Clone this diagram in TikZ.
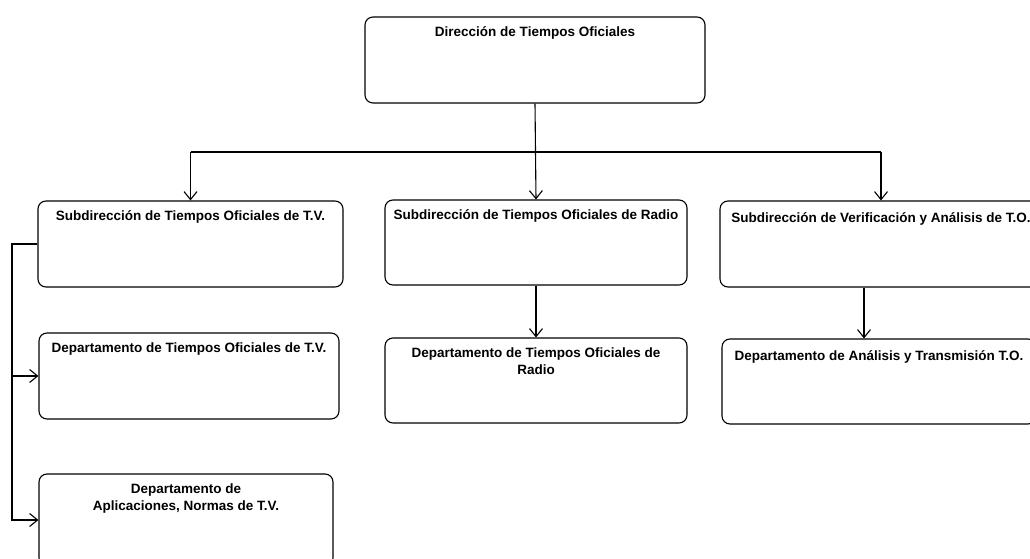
\documentclass[tikz,border=0pt]{standalone}
\usepackage{fontspec}
\setmainfont{Liberation Sans}
\usetikzlibrary{arrows.meta,positioning}

\tikzset{
  unit/.style={draw,rounded corners=8pt,line width=1.1pt},
  unittext/.style={anchor=north,yshift=-10pt,inner sep=0pt,align=center,
    font=\fontsize{13.5}{17}\selectfont\bfseries},
  arr/.style={-{Straight Barb[length=8pt,width=13pt]}},
}

\begin{document}
\begin{tikzpicture}[x=1pt,y=-1pt,line width=1.1pt]
    \clip (0,0) rectangle (1030,559);

    \node[unit,minimum width=340pt,minimum height=86pt,
      label={[unittext]north:Dirección de Tiempos Oficiales}] (dto) at (535,60) {};

    \node[unit,minimum width=305pt,minimum height=86pt,
      label={[unittext]north:Subdirección de Tiempos Oficiales de T.V.}] (stv) at (190.5,244) {};
    \node[unit,minimum width=302pt,minimum height=85pt,
      label={[unittext]north:Subdirección de Tiempos Oficiales de Radio}] (srad) at (536,242.5) {};
    \node[unit,minimum width=322pt,minimum height=86pt,
      label={[unittext,yshift=-2pt]north:Subdirección de Verificación y Análisis de T.O.}] (sver) at (881,244) {};

    \node[unit,minimum width=300pt,minimum height=86pt,
      label={[unittext]north:Departamento de Tiempos Oficiales de T.V.}] (dtv) at (189,376) {};
    \node[unit,minimum width=294pt,minimum height=92pt,
      label={[unittext]north:Departamento de\\Aplicaciones, Normas de T.V.}] (dapl) at (186,520) {};
    \node[unit,minimum width=302pt,minimum height=85pt,
      label={[unittext]north:Departamento de Tiempos Oficiales de\\Radio}] (drad) at (536,380.5) {};
    \node[unit,minimum width=314pt,minimum height=85pt,
      label={[unittext,yshift=-2pt]north:Departamento de Análisis y Transmisión T.O.}] (dant) at (879,381.5) {};

    \coordinate (hub) at (0,152);
    \coordinate (bus) at (12,0);

    \draw[arr] (dto.south) -- (srad.north);
    \draw (stv.north |- hub) -- (sver.north |- hub);
    \draw[arr] (stv.north |- hub) -- (stv.north);
    \draw[arr] (sver.north |- hub) -- (sver.north);

    \draw[arr] (srad.south) -- (drad.north);
    \draw[arr] ([xshift=-17pt]sver.south) -- ([xshift=-17pt]sver.south |- dant.north);

    \draw[arr] (stv.west) -- (stv.west -| bus) |- (dapl.west);
    \draw[arr] (dtv.west -| bus) -- (dtv.west);
\end{tikzpicture}
\end{document}
